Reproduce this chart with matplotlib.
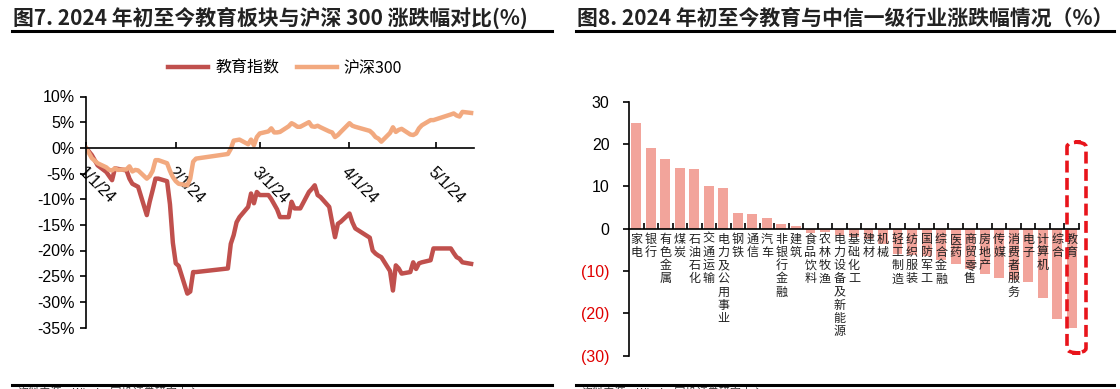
import datetime as dt

import matplotlib
matplotlib.use('Agg')
import matplotlib.pyplot as plt
from matplotlib.patches import FancyBboxPatch
from matplotlib.lines import Line2D

plt.rcParams['font.family'] = ['Noto Sans CJK SC', 'DejaVu Sans']

# ---- left chart data: cumulative change since 2024-01-01 (%) ----
edu_dates = ['2024-01-01', '2024-01-03', '2024-01-05', '2024-01-08', '2024-01-10', '2024-01-11',
             '2024-01-15', '2024-01-16', '2024-01-17', '2024-01-18', '2024-01-19', '2024-01-22',
             '2024-01-23', '2024-01-24', '2024-01-25', '2024-01-26', '2024-01-29', '2024-01-30',
             '2024-01-31', '2024-02-01', '2024-02-02', '2024-02-05', '2024-02-06', '2024-02-07',
             '2024-02-08', '2024-02-19', '2024-02-20', '2024-02-21', '2024-02-22', '2024-02-23',
             '2024-02-26', '2024-02-27', '2024-02-28', '2024-02-29', '2024-03-01', '2024-03-04',
             '2024-03-05', '2024-03-06', '2024-03-07', '2024-03-08', '2024-03-11', '2024-03-12',
             '2024-03-13', '2024-03-14', '2024-03-15', '2024-03-18', '2024-03-19', '2024-03-20',
             '2024-03-21', '2024-03-22', '2024-03-25', '2024-03-26', '2024-03-27', '2024-03-28',
             '2024-03-29', '2024-04-01', '2024-04-02', '2024-04-03', '2024-04-08', '2024-04-09',
             '2024-04-10', '2024-04-11', '2024-04-12', '2024-04-15', '2024-04-16', '2024-04-17',
             '2024-04-18', '2024-04-19', '2024-04-22', '2024-04-23', '2024-04-24', '2024-04-25',
             '2024-04-26', '2024-04-29', '2024-04-30', '2024-05-06', '2024-05-07', '2024-05-08',
             '2024-05-09', '2024-05-10', '2024-05-13']
edu_values = [0.0, -1.4, -3.4, -4.7, -6.3, -4.0,
              -4.4, -6.0, -7.0, -7.3, -7.6, -13.1,
              -10.5, -8.3, -6.0, -6.0, -6.5, -11.0,
              -18.5, -22.5, -23.0, -28.4, -28.0, -24.2,
              -24.2, -23.5, -18.7, -17.0, -14.5, -13.5,
              -11.5, -8.9, -10.8, -8.6, -9.2, -9.2,
              -10.0, -11.0, -12.0, -13.5, -13.5, -10.5,
              -11.8, -11.8, -11.8, -8.6, -8.0, -7.3,
              -9.2, -9.6, -11.5, -14.5, -17.4, -14.8,
              -14.4, -12.8, -14.5, -15.7, -17.5, -20.0,
              -20.6, -21.0, -21.3, -24.0, -27.8, -22.9,
              -23.5, -24.5, -24.2, -22.3, -23.6, -22.5,
              -22.3, -21.9, -19.6, -19.6, -20.5, -21.3,
              -21.6, -22.3, -22.6]

hs300_dates = ['2024-01-01', '2024-01-02', '2024-01-03', '2024-01-04', '2024-01-05', '2024-01-08',
               '2024-01-09', '2024-01-10', '2024-01-11', '2024-01-12', '2024-01-15', '2024-01-16',
               '2024-01-17', '2024-01-18', '2024-01-19', '2024-01-22', '2024-01-23', '2024-01-24',
               '2024-01-25', '2024-01-26', '2024-01-29', '2024-01-30', '2024-01-31', '2024-02-01',
               '2024-02-02', '2024-02-05', '2024-02-06', '2024-02-07', '2024-02-08', '2024-02-19',
               '2024-02-20', '2024-02-21', '2024-02-22', '2024-02-23', '2024-02-26', '2024-02-27',
               '2024-02-28', '2024-02-29', '2024-03-01', '2024-03-04', '2024-03-05', '2024-03-06',
               '2024-03-07', '2024-03-08', '2024-03-11', '2024-03-12', '2024-03-13', '2024-03-14',
               '2024-03-15', '2024-03-18', '2024-03-19', '2024-03-20', '2024-03-21', '2024-03-22',
               '2024-03-25', '2024-03-26', '2024-03-27', '2024-03-28', '2024-03-29', '2024-04-01',
               '2024-04-02', '2024-04-03', '2024-04-08', '2024-04-09', '2024-04-10', '2024-04-11',
               '2024-04-12', '2024-04-15', '2024-04-16', '2024-04-17', '2024-04-18', '2024-04-19',
               '2024-04-22', '2024-04-23', '2024-04-24', '2024-04-25', '2024-04-26', '2024-04-29',
               '2024-04-30', '2024-05-06', '2024-05-07', '2024-05-08', '2024-05-09', '2024-05-10',
               '2024-05-13']
hs300_values = [0.0, -1.0, -2.0, -2.5, -3.0, -3.8,
                -4.3, -4.4, -4.0, -4.3, -4.2, -3.6,
                -4.6, -4.3, -4.4, -6.0, -5.5, -4.5,
                -2.4, -2.4, -3.0, -4.5, -5.7, -6.5,
                -7.0, -7.3, -6.0, -2.7, -2.1, -1.2,
                -0.2, 1.4, 1.5, 1.6, 0.7, 1.6,
                0.5, 2.1, 2.8, 3.2, 3.8, 3.0,
                3.0, 3.1, 4.2, 4.8, 4.5, 4.1,
                4.1, 5.0, 4.2, 4.1, 4.3, 4.0,
                3.2, 3.0, 2.1, 2.5, 3.1, 4.8,
                4.3, 4.1, 3.3, 2.8, 2.1, 1.8,
                1.2, 2.9, 4.0, 3.1, 3.5, 3.7,
                2.6, 2.5, 2.8, 3.8, 4.4, 5.4,
                5.4, 6.5, 6.7, 6.3, 6.1, 7.0,
                6.8]

left_ticks = ['2024-01-01', '2024-02-01', '2024-03-01', '2024-04-01', '2024-05-01']
left_tick_labels = ['1/1/24', '2/1/24', '3/1/24', '4/1/24', '5/1/24']
left_yticks = [10, 5, 0, -5, -10, -15, -20, -25, -30, -35]

# ---- right chart data: 2024 YTD change of CITIC level-1 industries (%) ----
industries = ['家电', '银行', '有色金属', '煤炭', '石油石化', '交通运输', '电力及公用事业',
              '钢铁', '通信', '汽车', '非银行金融', '建筑', '食品饮料', '农林牧渔',
              '电力设备及新能源', '基础化工', '建材', '机械', '轻工制造', '纺织服装',
              '国防军工', '综合金融', '医药', '商贸零售', '房地产', '传媒', '消费者服务',
              '电子', '计算机', '综合', '教育']
industry_change = [25.0, 19.1, 16.5, 14.3, 14.0, 10.2, 9.5,
                   3.6, 3.5, 2.5, 1.0, 0.6, -1.0, -0.8,
                   -1.4, -2.0, -2.5, -3.6, -5.9, -6.3,
                   -6.5, -7.5, -8.3, -9.5, -10.7, -11.6, -12.2,
                   -12.6, -16.4, -21.3, -23.5]
right_yticks = [30, 20, 10, 0, -10, -20, -30]

W, H = 1120, 389
fig = plt.figure(figsize=(W / 100, H / 100), dpi=100)

RED = '#C0504D'
ORANGE = '#F2A97F'
BAR = '#F2A49B'


def px_axes(x0, y0, x1, y1):
    """axes from pixel box (top-left origin)"""
    return fig.add_axes([x0 / W, 1 - y1 / H, (x1 - x0) / W, (y1 - y0) / H])


def header(x0, x1, text):
    fig.text(x0 / W + 0.001, 1 - 18 / H, text, fontsize=15, fontweight='bold',
             color='#222222', va='center', ha='left')
    fig.add_artist(Line2D([x0 / W, x1 / W], [1 - 31 / H] * 2, color='black', lw=2.2))
    fig.add_artist(Line2D([x0 / W, x1 / W], [1 - 385 / H] * 2, color='black', lw=2.2))
    fig.text(x0 / W + 0.005, 1 - 387 / H, '资料来源：Wind，国投证券研究中心', fontsize=8,
             color='#333333', va='top', ha='left')


header(12, 552, '图7. 2024 年初至今教育板块与沪深 300 涨跌幅对比(%)')
header(576, 1114, '图8. 2024 年初至今教育与中信一级行业涨跌幅情况（%）')

# ---- left: line chart ----
ax = px_axes(86, 96.5, 474, 327.5)
d_edu = [dt.datetime.strptime(s, '%Y-%m-%d') for s in edu_dates]
d_hs = [dt.datetime.strptime(s, '%Y-%m-%d') for s in hs300_dates]
ax.plot(d_edu, edu_values, color=RED, lw=3.2, label='教育指数', solid_joinstyle='round')
ax.plot(d_hs, hs300_values, color=ORANGE, lw=3.2, label='沪深300', solid_joinstyle='round')
ax.set_xlim(dt.datetime(2024, 1, 1), dt.datetime(2024, 5, 14))
ax.set_ylim(-35, 10)
ax.spines['top'].set_visible(False)
ax.spines['right'].set_visible(False)
ax.spines['bottom'].set_position(('data', 0))
ax.spines['left'].set_linewidth(1.2)
ax.spines['bottom'].set_linewidth(1.2)
ax.set_yticks(left_yticks)
ax.set_yticklabels([f'{v}%' for v in left_yticks], fontsize=11.5, family='Liberation Sans')
ax.tick_params(axis='y', direction='out', length=4, width=1.2, pad=4)
ax.set_xticks([dt.datetime.strptime(s, '%Y-%m-%d') for s in left_ticks])
ax.set_xticklabels(left_tick_labels, fontsize=11.5, family='Liberation Sans',
                   rotation=-45, ha='left', va='top', rotation_mode='anchor')
ax.tick_params(axis='x', direction='in', length=4, width=1.2, pad=12)
ax.legend(loc='center', bbox_to_anchor=(285 / W, 1 - 68 / H), bbox_transform=fig.transFigure,
          ncol=2, frameon=False, fontsize=11.5, handlelength=2.5, columnspacing=1.1,
          handletextpad=0.45)

# ---- right: bar chart ----
bx = px_axes(629, 101.7, 1079, 355.7)
pos = list(range(len(industries)))
bx.bar(pos, industry_change, width=0.68, color=BAR)
bx.set_xlim(-0.5, len(industries) - 0.5)
bx.set_ylim(-30, 30)
bx.spines['top'].set_visible(False)
bx.spines['right'].set_visible(False)
bx.spines['bottom'].set_position(('data', 0))
bx.spines['left'].set_linewidth(1.2)
bx.spines['bottom'].set_linewidth(1.2)
bx.set_yticks(right_yticks)
ylab = bx.set_yticklabels([str(v) if v >= 0 else f'({-v})' for v in right_yticks],
                          fontsize=11.5, family='Liberation Sans')
for v, t in zip(right_yticks, ylab):
    t.set_color('#E00000' if v < 0 else 'black')
bx.tick_params(axis='y', direction='out', length=4, width=1.2, pad=10)
bx.set_xticks(pos)
bx.set_xticklabels(['\n'.join(s) for s in industries], fontsize=8.7, color='#222222',
                   va='top', linespacing=1.02)
bx.tick_params(axis='x', which='major', length=0, pad=3)
bx.set_xticks([p + 0.5 for p in pos], minor=True)
bx.tick_params(axis='x', which='minor', direction='in', length=4, width=1.2)

# dashed highlight around the education bar
box = FancyBboxPatch((1067 / W, 1 - 353 / H), 19 / W, 211 / H,
                     boxstyle='round,pad=0,rounding_size=0.012', transform=fig.transFigure,
                     fill=False, edgecolor='#E8141B', lw=2.6, linestyle=(0, (3.3, 1.5)))
fig.add_artist(box)

fig.savefig('out.png', dpi=100)
